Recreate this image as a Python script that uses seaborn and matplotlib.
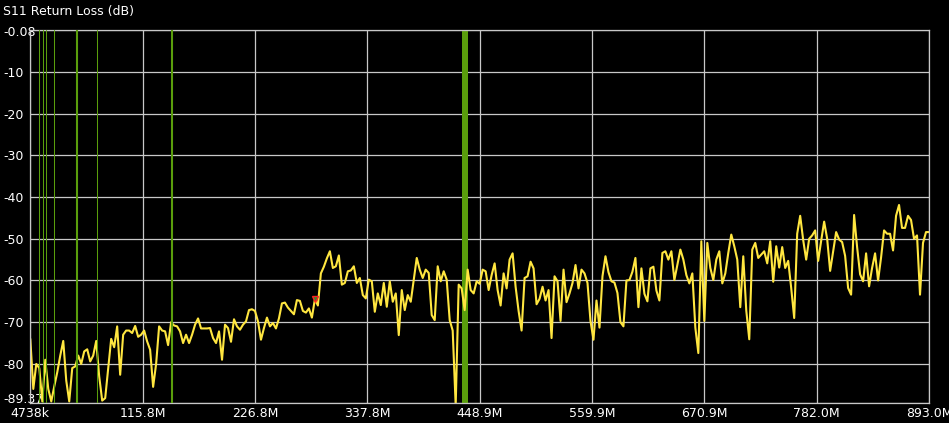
import numpy as np
import seaborn as sns
import matplotlib.pyplot as plt

# S11 trace, one point every ~2.96 MHz from 4.738 MHz to 893.0 MHz
f_start = 4.738
f_stop = 893.0
s11_seg1 = [-74, -86, -80, -81, -89, -79, -86, -89, -85.4, -82,
            -78, -74.5, -84, -89, -81, -80.6, -78, -80, -77, -76.5,
            -79.4, -78, -74.5, -83, -88.8, -88.2, -81, -74, -76, -71,
            -82.6, -73, -72, -72, -72.6, -70.9, -73.5, -73, -72, -74.6,
            -76.6, -85.5, -80, -71, -72, -72.2, -75.5, -70, -70.8, -71]
s11_seg2 = [-72.2, -75, -73, -75, -73, -70.6, -69.1, -71.5, -71.5, -71.5,
            -71.4, -73.8, -75, -72.2, -79, -70.6, -71.4, -74.7, -69.3, -71,
            -71.8, -70.6, -69.8, -67.1, -66.9, -67.3, -69.8, -74.2, -71.4, -68.9,
            -71, -70.2, -71.5, -69.1, -65.5, -65.3, -66.5, -67.3, -68.1, -64.7,
            -64.9, -67.3, -67.7, -66.7, -68.9, -64.5, -66, -58.3, -56.7, -54.7]
s11_seg3 = [-53, -57, -56.6, -54, -61, -60.6, -57.8, -57.6, -56.6, -60.6,
            -59.4, -63.5, -64.3, -59.8, -60.2, -67.5, -63.1, -65.9, -60.6, -66.3,
            -60.2, -65.1, -63.1, -73.1, -62.3, -67.1, -63.5, -65.1, -59.8, -54.6,
            -57.4, -59.4, -57.4, -58.2, -68.3, -69.5, -56.6, -60.2, -57.8, -59.8,
            -69.5, -72, -90, -61, -61.9, -67.1, -57.4, -62.3, -63.1, -60.2]
s11_seg4 = [-60.8, -57.4, -57.8, -62.3, -58.7, -55.9, -62.3, -66, -58.3, -61.9,
            -55, -53.5, -61.5, -67.3, -72, -59.4, -59, -55.5, -57.1, -65.7,
            -64.4, -61.5, -64.8, -62.3, -73.8, -59, -60.2, -69.7, -57.4, -65.2,
            -63.1, -60.6, -56.3, -61.9, -57.4, -58.3, -60.6, -69.7, -74.2, -64.8,
            -71.3, -59, -54.2, -58, -60.2, -60.5, -63, -70, -71, -60]
s11_seg5 = [-59.9, -57.9, -54.6, -66.4, -57.1, -63.2, -65, -57.1, -56.7, -62.4,
            -64.8, -53.4, -53, -55, -53, -59.9, -56.3, -52.6, -55, -58.7,
            -60.7, -58.3, -71.3, -77.4, -50.6, -69.7, -51, -57, -59.9, -55,
            -53, -60.7, -58.3, -53.4, -49, -51.8, -55, -66.4, -54.2, -67.2,
            -74.1, -52.6, -51, -54.6, -53.8, -53, -55.9, -50.6, -60.3, -51.8]
s11_seg6 = [-56.9, -52, -57, -55.3, -61.8, -69, -48.8, -44.5, -50.3, -55,
            -50, -49.2, -48, -55.3, -50.5, -45.9, -50, -57.7, -53, -48.4,
            -50.2, -50.8, -54.1, -61.8, -63.4, -44.3, -52, -58.5, -60.2, -53.5,
            -61.4, -57, -53.5, -60, -54.5, -48, -48.8, -48.8, -52.8, -44.5,
            -41.9, -47.4, -47.4, -44.5, -45.5, -50, -49.2, -63.4, -51, -48.4,
            -48.4]

s11 = np.array(s11_seg1 + s11_seg2 + s11_seg3 + s11_seg4 + s11_seg5 + s11_seg6)
freq = np.linspace(f_start, f_stop, len(s11))

# marker and band markers (MHz)
marker_freq = 286.0
marker_val = -64.5
green_lines = [13.63, 17.58, 20.55, 28.45, 50.88, 70.34, 144.74]
green_widths = [0.75, 0.75, 0.75, 0.75, 1.5, 0.75, 1.5]
green_band = (431.0, 437.0)

x_ticks = [4.738, 115.8, 226.8, 337.8, 448.9, 559.9, 670.9, 782.0, 893.0]
x_labels = ["4738k", "115.8M", "226.8M", "337.8M", "448.9M", "559.9M",
            "670.9M", "782.0M", "893.0M"]
y_ticks = [-0.08, -10, -20, -30, -40, -50, -60, -70, -80, -89.37]
y_labels = ["-0.08", "-10", "-20", "-30", "-40", "-50", "-60", "-70", "-80", "-89.37"]

sns.set_style("dark", rc={"axes.facecolor": "black", "figure.facecolor": "black",
                          "grid.color": "#c8c8c8", "axes.edgecolor": "#c8c8c8"})
plt.rcParams['font.family'] = ['DejaVu Sans']

fig = plt.figure(figsize=(9.49, 4.23), dpi=100)
ax = fig.add_axes([30.3 / 949, 20 / 423, 898.7 / 949, 372.5 / 423])

green = "#5a9e0c"
ax.axvspan(green_band[0], green_band[1], color=green, lw=0, zorder=1)
sns.lineplot(x=freq, y=s11, ax=ax, color="#ffe640", lw=1.5, zorder=2)
for f, w in zip(green_lines, green_widths):
    ax.axvline(f, color=green, lw=w, zorder=3)
ax.plot([marker_freq], [marker_val], marker="v", ms=5, mfc="#2e8b2e", mec="#ff2020",
        mew=1, ls="none", zorder=4)

ax.set_xlim(f_start, f_stop)
ax.set_ylim(y_ticks[-1], y_ticks[0])
ax.set_xticks(x_ticks)
ax.set_xticklabels(x_labels)
ax.set_yticks(y_ticks)
ax.set_yticklabels(y_labels)
ax.grid(True, color="#c8c8c8", lw=0.9, zorder=0)
ax.set_axisbelow(True)
for s in ax.spines.values():
    s.set_color("#c8c8c8")
    s.set_linewidth(0.9)

ax.tick_params(axis="both", length=0, colors="white", labelsize=9)
ax.tick_params(axis="y", pad=19.6)
ax.tick_params(axis="x", pad=3)
for lab in ax.get_yticklabels():
    lab.set_horizontalalignment("left")
ylabs = ax.get_yticklabels()
ylabs[-1].set_verticalalignment("baseline")

fig.text(3 / 949, 1 - 15 / 423, "S11 Return Loss (dB)", color="white", fontsize=9,
         ha="left", va="baseline")

fig.savefig("out.png", dpi=100, facecolor="black")
